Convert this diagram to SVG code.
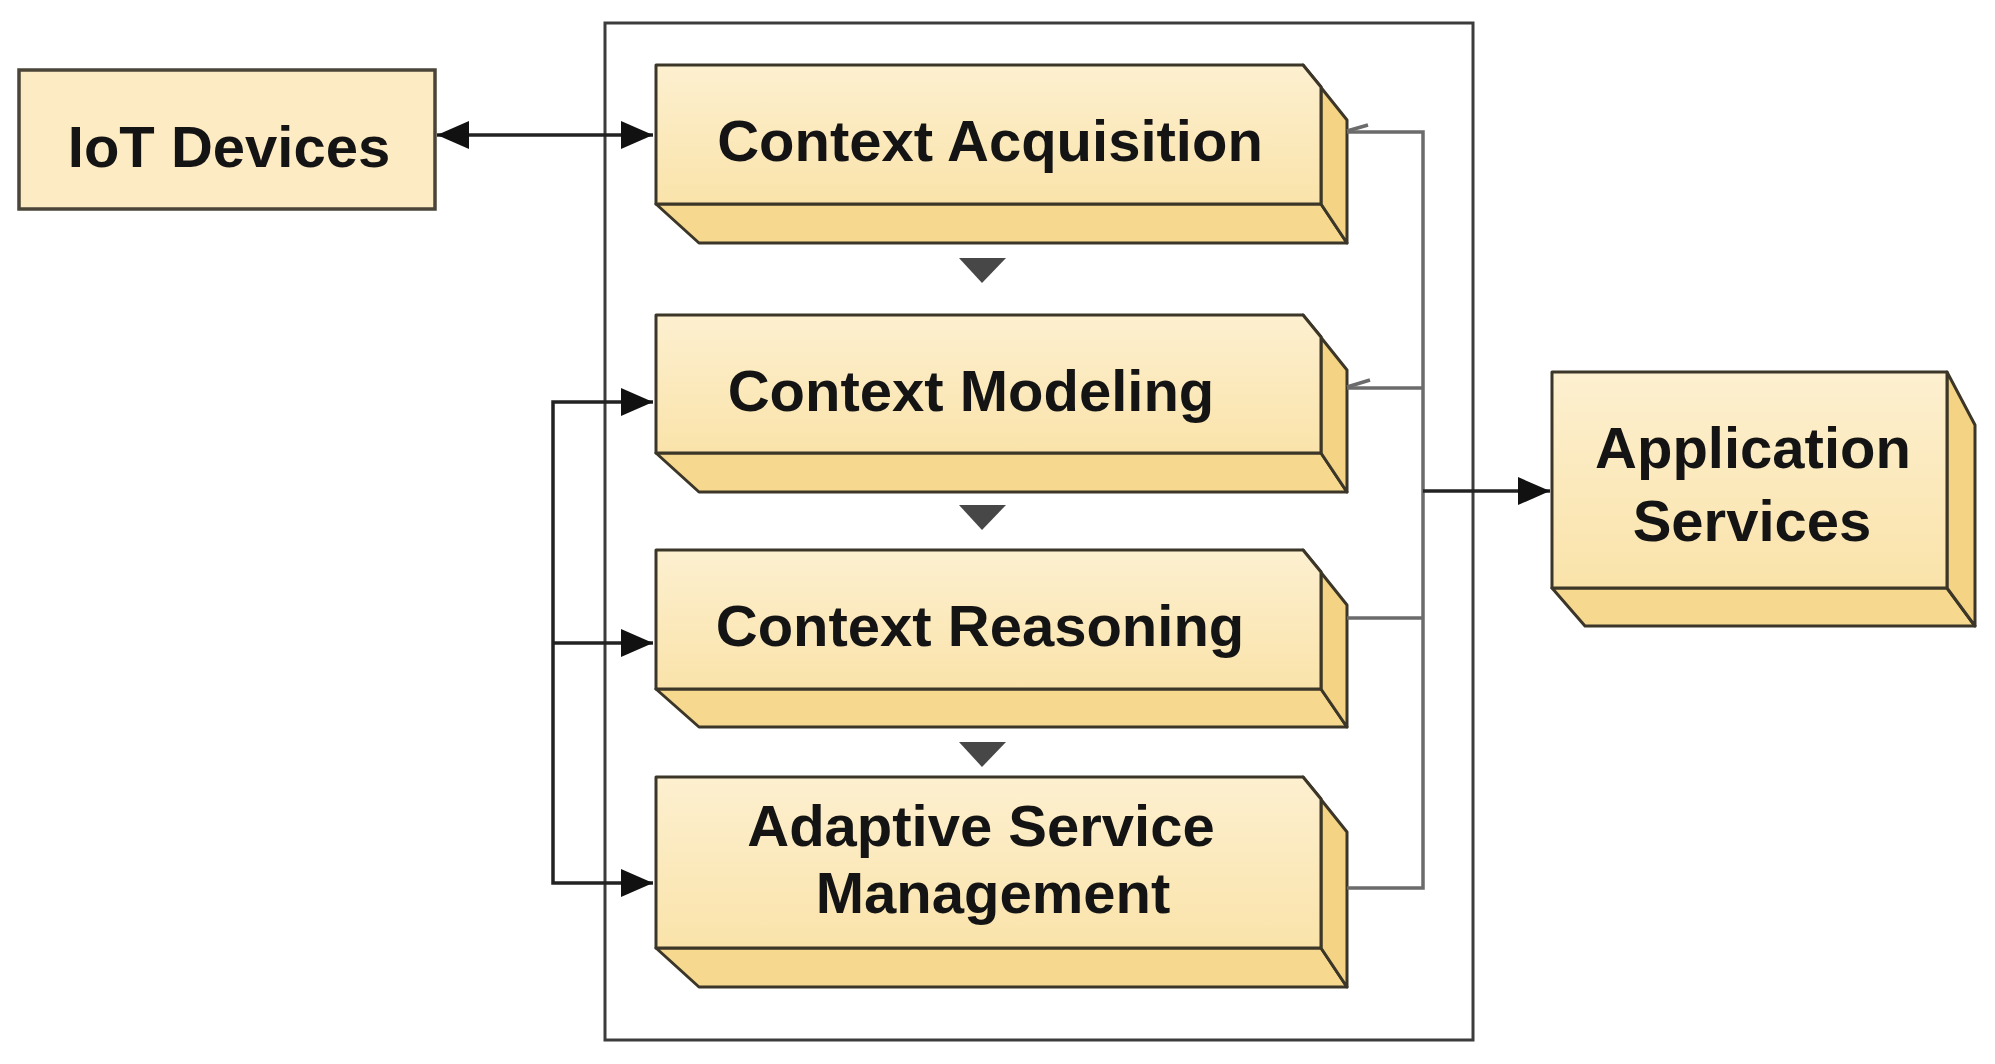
<svg xmlns="http://www.w3.org/2000/svg" width="1995" height="1064" viewBox="0 0 1995 1064">
  <defs>
    <linearGradient id="frontGrad" x1="0" y1="0" x2="0" y2="1">
      <stop offset="0" stop-color="#fdf0d0"/>
      <stop offset="1" stop-color="#fae3aa"/>
    </linearGradient>
    <marker id="arrowBlack" viewBox="0 0 10 10" refX="10" refY="5" markerWidth="10" markerHeight="10" markerUnits="userSpaceOnUse" orient="auto-start-reverse">
      <path d="M0,0 L10,5 L0,10 Z" fill="#111"/>
    </marker>
    <marker id="arrowBig" viewBox="0 0 32 28" refX="32" refY="14" markerWidth="32" markerHeight="28" markerUnits="userSpaceOnUse" orient="auto-start-reverse">
      <path d="M0,0 L32,14 L0,28 Z" fill="#111"/>
    </marker>
  </defs>
  <style>
    .front { fill: url(#frontGrad); stroke: #3b3628; stroke-width: 3; stroke-linejoin: round; }
    .side { fill: #f4d484; stroke: #3b3628; stroke-width: 3; stroke-linejoin: round; }
    .bottom { fill: #f6d98e; stroke: #3b3628; stroke-width: 3; stroke-linejoin: round; }
    .flat { fill: #fdebc4; stroke: #4a4538; stroke-width: 3.5; }
    .label { font-family: "Liberation Sans", Arial, sans-serif; font-weight: bold; font-size: 58px; fill: #141414; text-anchor: middle; }
    .wire { fill: none; stroke: #222; stroke-width: 3.5; }
    .grey { fill: none; stroke: #6b6b6b; stroke-width: 3.5; }
    .tri { fill: #474747; }
    .frame { fill: none; stroke: #3c3c3c; stroke-width: 3; }
  </style>
  <rect width="1995" height="1064" fill="#ffffff"/>

  <g id="container">
    <rect class="frame" x="605" y="23" width="868" height="1017"/>
  </g>

  <g id="iot-devices">
    <rect class="flat" x="19" y="70" width="416" height="139"/>
    <text class="label" x="229" y="167" font-size="60">IoT Devices</text>
  </g>

  <g id="context-acquisition">
    <polygon class="bottom" points="656,204 1321,204 1347,243 699,243"/>
    <polygon class="side" points="1303,65 1347,120 1347,243 1321,204 1321,87"/>
    <polygon class="front" points="656,65 1303,65 1321,87 1321,204 656,204"/>
    <text class="label" x="990" y="161">Context Acquisition</text>
  </g>

  <g id="context-modeling">
    <polygon class="bottom" points="656,453 1321,453 1347,492 699,492"/>
    <polygon class="side" points="1303,315 1347,370 1347,492 1321,453 1321,337"/>
    <polygon class="front" points="656,315 1303,315 1321,337 1321,453 656,453"/>
    <text class="label" x="971" y="411">Context Modeling</text>
  </g>

  <g id="context-reasoning">
    <polygon class="bottom" points="656,689 1321,689 1347,727 699,727"/>
    <polygon class="side" points="1303,550 1347,605 1347,727 1321,689 1321,572"/>
    <polygon class="front" points="656,550 1303,550 1321,572 1321,689 656,689"/>
    <text class="label" x="980" y="646">Context Reasoning</text>
  </g>

  <g id="adaptive-service-management">
    <polygon class="bottom" points="656,948 1321,948 1347,987 699,987"/>
    <polygon class="side" points="1303,777 1347,832 1347,987 1321,948 1321,799"/>
    <polygon class="front" points="656,777 1303,777 1321,799 1321,948 656,948"/>
    <text class="label" x="981" y="846">Adaptive Service</text>
    <text class="label" x="993" y="913">Management</text>
  </g>

  <g id="application-services">
    <polygon class="bottom" points="1552,588 1947,588 1975,626 1585,626"/>
    <polygon class="side" points="1947,372 1975,425 1975,626 1947,588"/>
    <polygon class="front" points="1552,372 1947,372 1947,588 1552,588"/>
    <text class="label" x="1753" y="468">Application</text>
    <text class="label" x="1752" y="541">Services</text>
  </g>

  <g id="connectors">
    <!-- IoT <-> Context Acquisition -->
    <line class="wire" x1="437" y1="135" x2="653" y2="135" marker-start="url(#arrowBig)" marker-end="url(#arrowBig)"/>
    <!-- flow triangles between layers -->
    <polygon class="tri" points="959,258 1006,258 982,283"/>
    <polygon class="tri" points="959,505 1006,505 982,530"/>
    <polygon class="tri" points="959,742 1006,742 982,767"/>
    <!-- right bus -->
    <path class="grey" d="M1347,132 H1423 V888 H1347"/>
    <line class="grey" x1="1347" y1="388" x2="1423" y2="388"/>
    <line class="grey" x1="1347" y1="618" x2="1423" y2="618"/>
    <line class="grey" x1="1347" y1="131" x2="1368" y2="125" stroke-width="2.5"/>
    <line class="grey" x1="1347" y1="387" x2="1370" y2="380" stroke-width="2.5"/>
    <!-- to Application Services -->
    <line class="wire" x1="1423" y1="491" x2="1550" y2="491" marker-end="url(#arrowBig)"/>
    <!-- left bus -->
    <path class="wire" d="M653,402 H553 V883 H653" marker-start="url(#arrowBig)" marker-end="url(#arrowBig)"/>
    <line class="wire" x1="553" y1="643" x2="653" y2="643" marker-end="url(#arrowBig)"/>
  </g>
</svg>
